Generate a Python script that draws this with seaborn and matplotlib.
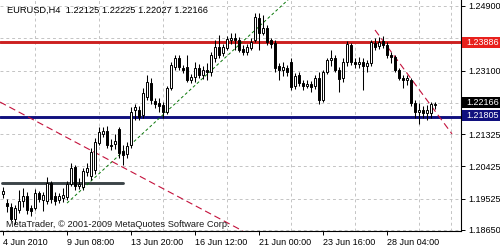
import matplotlib
matplotlib.use("Agg")
import matplotlib.pyplot as plt
import matplotlib.transforms as mtransforms
from matplotlib.patches import Rectangle
import seaborn as sns
import numpy as np
import pandas as pd

sns.set_theme(style="white")
plt.rcParams['font.family'] = ['Liberation Sans', 'DejaVu Sans']

# ---- data (EURUSD, H4) ----
opens = [1.1965, 1.1940, 1.1929, 1.1896, 1.1921, 1.1946, 1.1960, 1.1926, 1.1926, 1.1968,
         1.1949, 1.1946, 1.1996, 1.1960, 1.1949, 1.1954, 1.1957, 1.1993, 1.2041, 1.1988,
         1.1985, 1.2027, 1.2016, 1.2032, 1.2108, 1.2133, 1.2141, 1.2102, 1.2105, 1.2147,
         1.2085, 1.2077, 1.2102, 1.2200, 1.2200, 1.2186, 1.2236, 1.2275, 1.2225, 1.2219,
         1.2214, 1.2194, 1.2261, 1.2320, 1.2345, 1.2317, 1.2320, 1.2283, 1.2292, 1.2317,
         1.2297, 1.2311, 1.2306, 1.2345, 1.2376, 1.2359, 1.2373, 1.2395, 1.2401, 1.2395,
         1.2370, 1.2362, 1.2373, 1.2395, 1.2457, 1.2415, 1.2429, 1.2395, 1.2387, 1.2323,
         1.2311, 1.2317, 1.2334, 1.2267, 1.2297, 1.2275, 1.2267, 1.2272, 1.2267, 1.2289,
         1.2228, 1.2306, 1.2339, 1.2345, 1.2311, 1.2289, 1.2334, 1.2381, 1.2334, 1.2328,
         1.2334, 1.2323, 1.2331, 1.2387, 1.2378, 1.2392, 1.2381, 1.2353, 1.2348, 1.2311,
         1.2289, 1.2283, 1.2283, 1.2219, 1.2194, 1.2200, 1.2191, 1.2191, 1.22125]
highs = [1.1985, 1.1952, 1.1940, 1.1935, 1.1977, 1.1982, 1.1971, 1.1935, 1.1979, 1.1974,
         1.1971, 1.2013, 1.2002, 1.1971, 1.1968, 1.1982, 1.2002, 1.2052, 1.2046, 1.2010,
         1.2038, 1.2052, 1.2094, 1.2122, 1.2152, 1.2152, 1.2155, 1.2119, 1.2133, 1.2152,
         1.2102, 1.2111, 1.2208, 1.2217, 1.2211, 1.2261, 1.2297, 1.2289, 1.2233, 1.2233,
         1.2222, 1.2267, 1.2334, 1.2353, 1.2353, 1.2325, 1.2353, 1.2300, 1.2334, 1.2328,
         1.2323, 1.2331, 1.2362, 1.2395, 1.2409, 1.2384, 1.2406, 1.2415, 1.2415, 1.2404,
         1.2381, 1.2384, 1.2401, 1.2470, 1.2470, 1.2465, 1.2437, 1.2401, 1.2395, 1.2331,
         1.2334, 1.2325, 1.2345, 1.2303, 1.2306, 1.2283, 1.2283, 1.2281, 1.2297, 1.2306,
         1.2311, 1.2345, 1.2367, 1.2353, 1.2320, 1.2345, 1.2392, 1.2387, 1.2345, 1.2348,
         1.2345, 1.2339, 1.2395, 1.2401, 1.2404, 1.2406, 1.2390, 1.2362, 1.2353, 1.2317,
         1.2297, 1.2297, 1.2289, 1.2228, 1.2219, 1.2211, 1.2214, 1.2222, 1.22225]
lows = [1.1954, 1.1915, 1.1890, 1.1882, 1.1912, 1.1929, 1.1910, 1.1904, 1.1921, 1.1943,
        1.1918, 1.1938, 1.1940, 1.1935, 1.1940, 1.1943, 1.1949, 1.1988, 1.1977, 1.1979,
        1.1977, 1.2016, 1.2005, 1.2021, 1.2102, 1.2124, 1.2094, 1.2088, 1.2091, 1.2066,
        1.2046, 1.2066, 1.2094, 1.2172, 1.2172, 1.2178, 1.2228, 1.2217, 1.2205, 1.2194,
        1.2178, 1.2189, 1.2256, 1.2311, 1.2311, 1.2303, 1.2278, 1.2275, 1.2278, 1.2289,
        1.2286, 1.2283, 1.2295, 1.2334, 1.2345, 1.2350, 1.2367, 1.2384, 1.2367, 1.2362,
        1.2353, 1.2353, 1.2367, 1.2390, 1.2367, 1.2409, 1.2381, 1.2373, 1.2306, 1.2283,
        1.2295, 1.2295, 1.2256, 1.2258, 1.2267, 1.2256, 1.2261, 1.2250, 1.2258, 1.2217,
        1.2222, 1.2300, 1.2323, 1.2306, 1.2250, 1.2278, 1.2323, 1.2325, 1.2317, 1.2317,
        1.2256, 1.2306, 1.2323, 1.2367, 1.2370, 1.2373, 1.2345, 1.2331, 1.2306, 1.2283,
        1.2261, 1.2270, 1.2211, 1.2178, 1.2161, 1.2178, 1.2172, 1.2178, 1.22027]
closes = [1.1974, 1.1932, 1.1896, 1.1926, 1.1946, 1.1960, 1.1921, 1.1918, 1.1968, 1.1952,
          1.1963, 1.1996, 1.1952, 1.1946, 1.1960, 1.1963, 1.1993, 1.2038, 1.1988, 1.1993,
          1.2030, 1.2038, 1.2083, 1.2111, 1.2138, 1.2141, 1.2102, 1.2099, 1.2113, 1.2080,
          1.2074, 1.2099, 1.2194, 1.2208, 1.2180, 1.2247, 1.2278, 1.2228, 1.2217, 1.2211,
          1.2194, 1.2261, 1.2325, 1.2345, 1.2320, 1.2311, 1.2283, 1.2292, 1.2317, 1.2297,
          1.2311, 1.2306, 1.2353, 1.2376, 1.2353, 1.2376, 1.2398, 1.2401, 1.2395, 1.2367,
          1.2362, 1.2376, 1.2390, 1.2459, 1.2415, 1.2429, 1.2390, 1.2384, 1.2317, 1.2311,
          1.2320, 1.2306, 1.2264, 1.2295, 1.2275, 1.2267, 1.2272, 1.2264, 1.2289, 1.2228,
          1.2306, 1.2339, 1.2345, 1.2311, 1.2286, 1.2334, 1.2384, 1.2334, 1.2328, 1.2334,
          1.2323, 1.2331, 1.2390, 1.2376, 1.2390, 1.2381, 1.2353, 1.2348, 1.2311, 1.2289,
          1.2283, 1.2289, 1.2219, 1.2194, 1.2200, 1.2191, 1.2200, 1.2217, 1.22166]

date_tick_bars = [0, 16, 32, 48, 64, 80, 96]
date_tick_labels = ['4 Jun 2010', '9 Jun 08:00', '13 Jun 20:00', '16 Jun 12:00',
                    '21 Jun 00:00', '23 Jun 16:00', '28 Jun 04:00']
price_ticks = [1.18650, 1.19525, 1.20425, 1.21325, 1.22200, 1.23100, 1.24000, 1.24900]
hidden_ticks = [1.22200, 1.24000]   # covered by the price boxes

resistance_level = 1.23886
support_level = 1.21805
last_price = 1.22166
range_level = 1.1996          # short dark-grey horizontal segment
range_bars = [-0.25, 30]

up_trend_bars = [16, 73]       # green dotted trend line
up_trend_prices = [1.1940, 1.2525]
down_trend1_bars = [-0.75, 60]   # long red dashed line
down_trend1_prices = [1.2222, 1.1862]
down_trend2_bars = [93, 112.25]  # short red dashed line
down_trend2_prices = [1.2423, 1.2133]

header = 'EURUSD,H4  1.22125 1.22225 1.22027 1.22166'
copyright_text = 'MetaTrader, \u00a9 2001-2009 MetaQuotes Software Corp.'

# ---- figure ----
W, H = 500, 250
fig = plt.figure(figsize=(5, 2.5), dpi=100)
fig.patch.set_facecolor('white')
ax = fig.add_axes([0 / W, 19 / H, 461 / W, 231 / H])
ax.set_facecolor('white')
ax.set_xlim(-0.75, 114.5)
ax.set_ylim(1.18622, 1.25067)

# grid
ax.set_yticks(price_ticks)
ax.set_yticklabels(['' if v in hidden_ticks else '%.5f' % v for v in price_ticks])
ax.set_xticks(date_tick_bars)
ax.set_xticklabels(date_tick_labels)
ax.set_xticks(list(range(0, 115, 8)), minor=True)
ax.grid(True, axis='y', which='major', color='#c4c4c4', lw=0.7, ls=(0, (3, 3)), zorder=0)
ax.grid(True, axis='x', which='minor', color='#c4c4c4', lw=0.7, ls=(0, (3, 3)), zorder=0)
ax.set_axisbelow(True)

# horizontal levels
lv = pd.DataFrame({'bar': [-0.75, 114.5], 'res': [resistance_level] * 2,
                   'sup': [support_level] * 2})
sns.lineplot(data=lv, x='bar', y='res', ax=ax, color='#cc2020', lw=2.1, zorder=2)
sns.lineplot(data=lv, x='bar', y='sup', ax=ax, color='#10107e', lw=2.1, zorder=2)
rg = pd.DataFrame({'bar': range_bars, 'lvl': [range_level] * 2})
sns.lineplot(data=rg, x='bar', y='lvl', ax=ax, color='#3c4448', lw=2.1, zorder=2)

# trend lines
ax.plot(up_trend_bars, up_trend_prices, color='#0a780a', lw=0.7, dashes=(3, 2.5), zorder=2)
ax.plot(down_trend1_bars, down_trend1_prices, color='#c4123c', lw=0.8, dashes=(6, 3.5), zorder=2)
ax.plot(down_trend2_bars, down_trend2_prices, color='#c4123c', lw=0.8, dashes=(6, 3.5), zorder=2)

# candles
idx = np.arange(len(closes))
o = np.array(opens); c = np.array(closes); h = np.array(highs); l = np.array(lows)
ax.vlines(idx, l, h, color='black', lw=0.75, zorder=3)
up = c >= o
body_lo = np.minimum(o, c)
body_h = np.maximum(np.abs(c - o), 0.00006)
ax.bar(idx[up], body_h[up], bottom=body_lo[up], width=0.62, color='white',
       edgecolor='black', linewidth=0.7, zorder=4)
ax.bar(idx[~up], body_h[~up], bottom=body_lo[~up], width=0.62, color='black',
       edgecolor='black', linewidth=0.7, zorder=4)

# spines
for side in ['bottom', 'right']:
    ax.spines[side].set_visible(True)
    ax.spines[side].set_color('black')
    ax.spines[side].set_linewidth(0.8)
ax.spines['top'].set_visible(False)
ax.spines['left'].set_visible(False)

ax.yaxis.tick_right()
ax.tick_params(axis='y', which='major', right=True, left=False, length=3, width=0.7,
               color='black', labelsize=6.5, pad=2, labelcolor='black')
ax.tick_params(axis='x', which='major', bottom=True, length=3, width=0.7,
               color='black', labelsize=6.5, pad=2, labelcolor='black')
ax.tick_params(axis='x', which='minor', bottom=False)
for t in ax.get_xticklabels():
    t.set_ha('left')
ax.set_xlabel('')
ax.set_ylabel('')

# price boxes on the right axis (x in axes coords, y in data)
trans = mtransforms.blended_transform_factory(ax.transAxes, ax.transData)
px_y = (1.25067 - 1.18622) / 231.0
px_x = 1.0 / 461.0
for lvl, bg, shift in [(resistance_level, '#e8201c', 0.3), (last_price, '#000000', 1.6),
                       (support_level, '#10107e', 1.0)]:
    yc = lvl + shift * px_y
    ax.add_patch(Rectangle((1.0 + 0.5 * px_x, yc - 5.5 * px_y), 39 * px_x, 11 * px_y,
                           transform=trans, facecolor=bg, edgecolor='none',
                           clip_on=False, zorder=10))
    ax.text(1.0 + 5.5 * px_x, yc, '%.5f' % lvl, transform=trans, color='white',
            fontsize=6.5, va='center', ha='left', zorder=11, clip_on=False)

fig.text(7 / W, 1 - 10 / H, header, fontsize=6.7, color='black', va='center', ha='left')
fig.text(6 / W, 1 - 224.5 / H, copyright_text, fontsize=6.7, color='#1a1a1a',
         va='center', ha='left')

fig.savefig('out.png', dpi=100, facecolor='white')
